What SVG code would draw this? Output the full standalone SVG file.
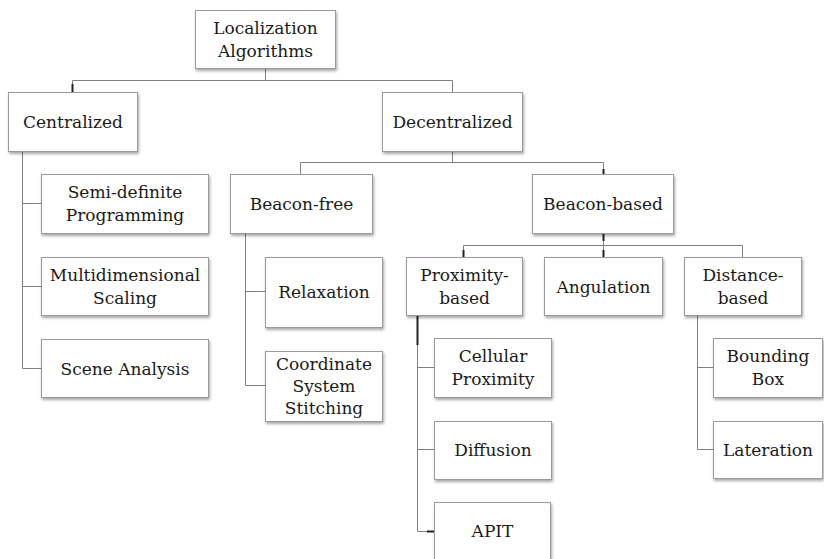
<svg xmlns="http://www.w3.org/2000/svg" width="824" height="559" viewBox="0 0 824 559">
<defs>
<filter id="sh" x="-10%" y="-10%" width="130%" height="140%">
<feDropShadow dx="1" dy="2" stdDeviation="1.5" flood-color="#000" flood-opacity="0.35"/>
</filter>
<style>
.box{fill:#fff;stroke:#9a9a9a;stroke-width:1;filter:url(#sh)}
.t{font-size:17px;fill:#1a1a1a;text-anchor:middle}
.c{fill:none;stroke:#808080;stroke-width:1}
.k{fill:none;stroke:#222;stroke-width:2}
</style>
</defs>
<rect width="824" height="559" fill="#fff"/>
<g id="connectors">
<path class="c" d="M265.5 68V80.5M72.5 80.5H452.5M72.5 80.5V92M452.5 80.5V92"/>
<path class="c" d="M22.5 151V368.5M22.5 203.5H41M22.5 286.5H41M22.5 368.5H41"/>
<path class="c" d="M452.5 151V162.5M300.5 162.5H603.5M300.5 162.5V174M603.5 162.5V174"/>
<path class="c" d="M245.5 233V385.5M245.5 291.5H265M245.5 385.5H265"/>
<path class="c" d="M603.5 233V245.5M463.5 245.5H742.5M463.5 245.5V257M603.5 245.5V257M742.5 245.5V257"/>
<path class="c" d="M417.5 315V531.5M417.5 367.5H434M417.5 449.5H434M417.5 531.5H434"/>
<path class="c" d="M697.5 315V449.5M697.5 367.5H713M697.5 449.5H713"/>
<path class="k" d="M72.5 84V92M603.5 169V174M603.5 233V241M463.5 250V257M603.5 250V257M417.5 315V345M427 531.5H434"/>
</g>
<g font-family="'DejaVu Serif', 'Liberation Serif', serif">
<g id="n-localization"><rect class="box" x="195.5" y="10.5" width="140" height="58"/><text class="t" x="265.5" y="34">Localization</text><text class="t" x="265.5" y="57">Algorithms</text></g>
<g id="n-centralized"><rect class="box" x="8.5" y="92.5" width="129" height="59"/><text class="t" x="73" y="128">Centralized</text></g>
<g id="n-decentralized"><rect class="box" x="382.5" y="92.5" width="140" height="59"/><text class="t" x="452.5" y="128">Decentralized</text></g>
<g id="n-sdp"><rect class="box" x="41.5" y="174.5" width="167" height="59"/><text class="t" x="125" y="198">Semi-definite</text><text class="t" x="125" y="221">Programming</text></g>
<g id="n-mds"><rect class="box" x="41.5" y="257.5" width="167" height="58"/><text class="t" x="125" y="281">Multidimensional</text><text class="t" x="125" y="304">Scaling</text></g>
<g id="n-scene"><rect class="box" x="41.5" y="339.5" width="167" height="58"/><text class="t" x="125" y="374.5">Scene Analysis</text></g>
<g id="n-beaconfree"><rect class="box" x="230.5" y="174.5" width="142" height="59"/><text class="t" x="301.5" y="210">Beacon-free</text></g>
<g id="n-beaconbased"><rect class="box" x="532.5" y="174.5" width="141" height="59"/><text class="t" x="603" y="210">Beacon-based</text></g>
<g id="n-relaxation"><rect class="box" x="265.5" y="257.5" width="117" height="70"/><text class="t" x="324" y="298">Relaxation</text></g>
<g id="n-css"><rect class="box" x="265.5" y="351.5" width="117" height="70"/><text class="t" x="324" y="370">Coordinate</text><text class="t" x="324" y="392">System</text><text class="t" x="324" y="414">Stitching</text></g>
<g id="n-proximity"><rect class="box" x="406.5" y="257.5" width="116" height="58"/><text class="t" x="464.5" y="281">Proximity-</text><text class="t" x="464.5" y="304">based</text></g>
<g id="n-angulation"><rect class="box" x="544.5" y="257.5" width="118" height="58"/><text class="t" x="603.5" y="292.5">Angulation</text></g>
<g id="n-distance"><rect class="box" x="684.5" y="257.5" width="117" height="58"/><text class="t" x="743" y="281">Distance-</text><text class="t" x="743" y="304">based</text></g>
<g id="n-cellular"><rect class="box" x="434.5" y="338.5" width="117" height="59"/><text class="t" x="493" y="362">Cellular</text><text class="t" x="493" y="385">Proximity</text></g>
<g id="n-diffusion"><rect class="box" x="434.5" y="421.5" width="117" height="58"/><text class="t" x="493" y="456">Diffusion</text></g>
<g id="n-apit"><rect class="box" x="434.5" y="502.5" width="116" height="58"/><text class="t" x="492.5" y="537">APIT</text></g>
<g id="n-bounding"><rect class="box" x="713.5" y="338.5" width="109" height="59"/><text class="t" x="768" y="362">Bounding</text><text class="t" x="768" y="385">Box</text></g>
<g id="n-lateration"><rect class="box" x="713.5" y="421.5" width="109" height="57"/><text class="t" x="768" y="455.5">Lateration</text></g>
</g>
</svg>
